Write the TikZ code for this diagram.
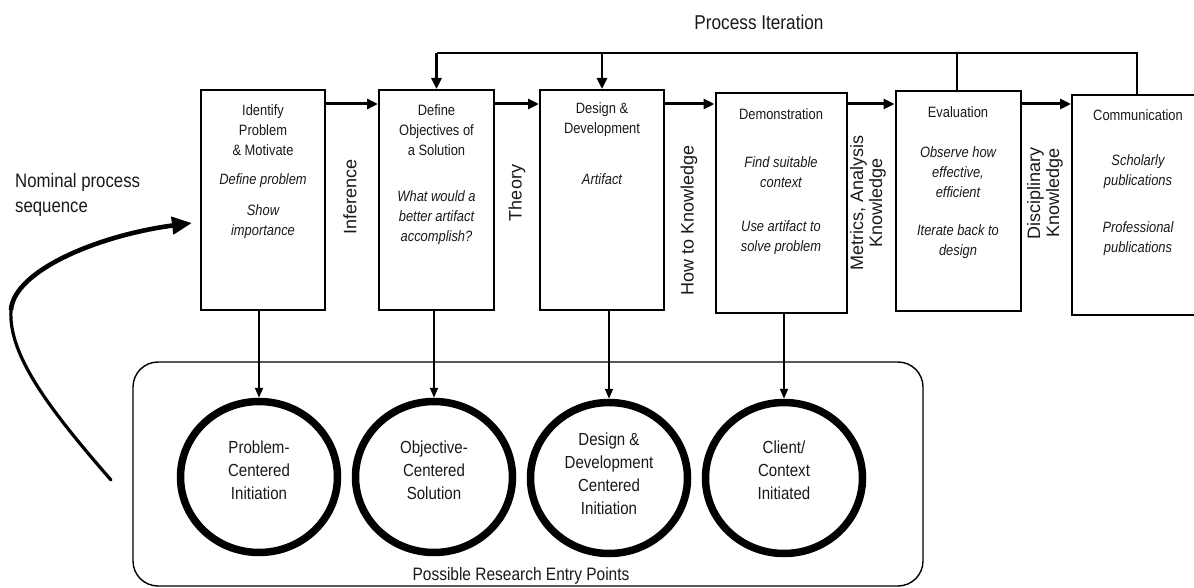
\documentclass[tikz,border=0pt]{standalone}
\usepackage{fontspec}
\setmainfont{Liberation Sans}
\newfontfamily\cond[FakeStretch=0.86]{Liberation Sans}
\usetikzlibrary{arrows.meta,shapes.geometric}
\begin{document}
\begin{tikzpicture}[x=1pt,y=-1pt,
  stage/.style={draw,line width=2pt,inner sep=0pt,minimum width=#1,minimum height=220pt},
  stage/.default=124pt,
  head/.style={font=\cond\fontsize{15}{20}\selectfont,align=center,inner sep=0pt,text=black!90},
  ital/.style={font=\cond\itshape\fontsize{15}{20}\selectfont,align=center,inner sep=0pt,text=black!90},
  vlab/.style={font=\fontsize{18}{19}\selectfont,align=center,rotate=90,inner sep=0pt,text=black!90},
  flow/.style={line width=3pt,-{Triangle[length=11pt,width=10pt]}},
  iter/.style={line width=2.6pt},
  iterarrow/.style={line width=2.6pt,-{Triangle[length=11pt,width=10pt]}},
  down/.style={line width=1.8pt,-{Triangle[length=10pt,width=8pt]}},
  entry/.style={ellipse,draw,line width=7.5pt,inner sep=0pt,minimum width=157pt,minimum height=151pt},
  ctext/.style={font=\cond\fontsize{17.5}{23}\selectfont,align=center,inner sep=0pt,text=black!90}
]
\useasboundingbox (0,0) rectangle (1194,588);

% stage boxes
\node[stage=124pt] (b1) at (263,200) {};
\node[stage=115pt] (b2) at (436.5,200) {};
\node[stage=124pt] (b3) at (602,200) {};
\node[stage=131pt,minimum height=219pt] (b4) at (781,203) {};
\node[stage=125pt,minimum height=219pt] (b5) at (958,201) {};
\node[stage=132pt] (b6) at (1138,205) {};

% box texts
\node[head] (t1a) at (263,130) {Identify\\Problem\\\& Motivate};
\node[ital] (t1b) at (263,181) {Define problem};
\node[ital] (t1c) at (263,222) {Show\\importance};
\node[head] (t2a) at (436.5,130) {Define\\Objectives of\\a Solution};
\node[ital] (t2b) at (436.5,218) {What would a\\better artifact\\accomplish?};
\node[head] (t3a) at (602,120) {Design \&\\Development};
\node[ital] (t3b) at (602,179) {Artifact};
\node[head] (t4a) at (781,114) {Demonstration};
\node[ital] (t4b) at (781,172) {Find suitable\\context};
\node[ital] (t4c) at (781,238) {Use artifact to\\solve problem};
\node[head] (t5a) at (958,112) {Evaluation};
\node[ital] (t5b) at (958,172) {Observe how\\effective,\\efficient};
\node[ital] (t5c) at (958,242) {Iterate back to\\design};
\node[head] (t6a) at (1138,115) {Communication};
\node[ital] (t6b) at (1138,172) {Scholarly\\publications};
\node[ital] (t6c) at (1138,239) {Professional\\publications};

% flow arrows
\coordinate (fy) at (0,104);
\draw[flow] (b1.east |- fy) -- (b2.west |- fy);
\draw[flow] (b2.east |- fy) -- (b3.west |- fy);
\draw[flow] (b3.east |- fy) -- (b4.west |- fy);
\draw[flow] (b4.east |- fy) -- (b5.west |- fy);
\draw[flow] (b5.east |- fy) -- (b6.west |- fy);

% vertical labels
\node[vlab] (l1) at (350,197) {Inference};
\node[vlab] (l2) at (517,193) {Theory};
\node[vlab] (l3) at (689,220) {How to Knowledge};
\node[vlab] (l4) at (868,203) {Metrics, Analysis\\Knowledge};
\node[vlab] (l5) at (1045,193) {Disciplinary\\Knowledge};

% process iteration
\node[font=\cond\fontsize{20}{24}\selectfont,inner sep=0pt,text=black!90] (pi) at (759,22) {Process Iteration};
\coordinate (iy) at (0,53);
\coordinate (e5) at (957,0);
\coordinate (e6) at (1137,0);
\draw[iter] (e6 |- b6.north) -- (e6 |- iy) -- (b2.north |- iy);
\draw[iter] (e5 |- b5.north) -- (e5 |- iy);
\draw[iterarrow] (b2.north |- iy) -- (b2.north);
\draw[iterarrow] (b3.north |- iy) -- (b3.north);

% entry points container
\draw[line width=1.4pt,rounded corners=25pt] (133,362) rectangle (923,586);
\node[font=\cond\fontsize{18}{22}\selectfont,inner sep=0pt,text=black!90] (pre) at (521,576) {Possible Research Entry Points};

% circles
\node[entry] (c1) at (259,477) {};
\node[entry] (c2) at (434,477) {};
\node[entry] (c3) at (609,478) {};
\node[entry] (c4) at (784,478) {};
\node[ctext] (ct1) at (259,470) {Problem-\\Centered\\Initiation};
\node[ctext] (ct2) at (434,470) {Objective-\\Centered\\Solution};
\node[ctext] (ct3) at (609,474) {Design \&\\Development\\Centered\\Initiation};
\node[ctext] (ct4) at (784,470) {Client/\\Context\\Initiated};

\draw[down] (c1.north |- b1.south) -- (c1.north);
\draw[down] (c2.north |- b2.south) -- (c2.north);
\draw[down] (c3.north |- b3.south) -- (c3.north);
\draw[down] (c4.north |- b4.south) -- (c4.north);

% nominal process sequence
\node[font=\cond\fontsize{19.5}{25}\selectfont,align=left,anchor=west,inner sep=0pt,text=black!90] (nps) at (15,195) {Nominal process\\sequence};
\coordinate (nstart) at (111,480);
\coordinate (nmid) at (11,310);
\coordinate (nend) at (192,223);
\draw[line width=3.2pt,line cap=round] (nstart) .. controls (50,410) and (8,355) .. (nmid);
\draw[line width=4.6pt,-{Triangle[length=20pt,width=17pt]}] (nmid) .. controls (14,270) and (100,235) .. (nend);
\end{tikzpicture}
\end{document}
